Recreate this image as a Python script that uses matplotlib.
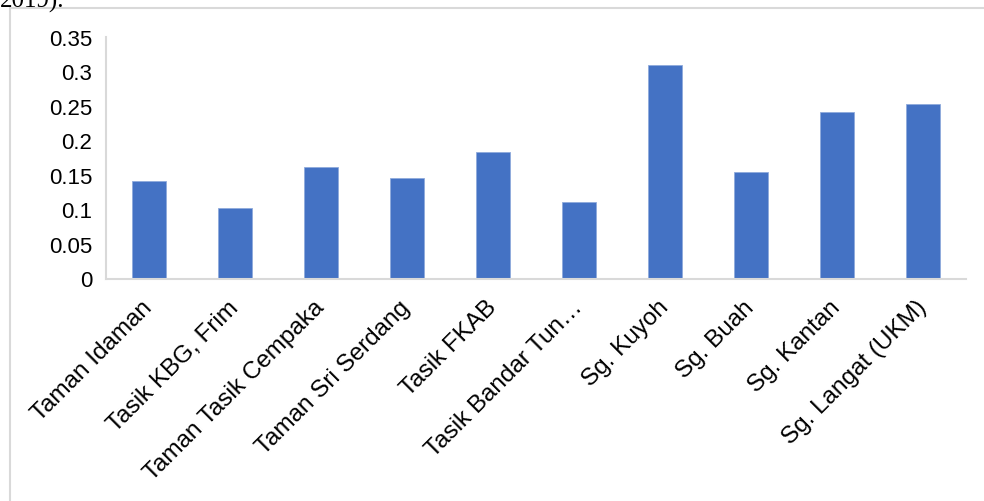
import matplotlib
matplotlib.use('Agg')
import matplotlib.pyplot as plt
from matplotlib.patches import Rectangle

# Chart data
sites = ['Taman Idaman', 'Tasik KBG, Frim', 'Taman Tasik Cempaka', 'Taman Sri Serdang',
         'Tasik FKAB', 'Tasik Bandar Tun…', 'Sg. Kuyoh', 'Sg. Buah', 'Sg. Kantan',
         'Sg. Langat (UKM)']
values = [0.141, 0.102, 0.162, 0.145, 0.183, 0.111, 0.310, 0.155, 0.241, 0.253]
yticks = [0, 0.05, 0.1, 0.15, 0.2, 0.25, 0.3, 0.35]
ytick_labels = ['0', '0.05', '0.1', '0.15', '0.2', '0.25', '0.3', '0.35']

plt.rcParams['font.family'] = ['Liberation Sans', 'DejaVu Sans']

W, H = 984, 502
fig = plt.figure(figsize=(W / 100, H / 100), dpi=100)
ax = fig.add_axes([106 / W, 1 - 279.5 / H, 860 / W, 241.5 / H])

# Outer chart frame (cut off at right and bottom)
fig.patches.append(Rectangle((10 / W, -0.1), 1.2, 1.1 - 9 / H, transform=fig.transFigure,
                             fill=False, edgecolor='#d9d9d9', linewidth=1.5, zorder=0))

# Caption fragment at the very top, mostly cut off
fig.text(0, 1 - 8 / H, '2019).', family='Liberation Serif', fontsize=18,
         ha='left', va='baseline')

x = list(range(len(sites)))
ax.bar(x, values, width=0.4, color='#4472c4', edgecolor='#8faadc', linewidth=0.6, zorder=2)

ax.set_xlim(-0.5, len(sites) - 0.5)
ax.set_ylim(0, 0.35)
ax.set_yticks(yticks)
ax.set_yticklabels(ytick_labels, fontsize=16)
ax.set_xticks(x)
ax.set_xticklabels(sites, fontsize=17.5, rotation=45, ha='right', va='center',
                   rotation_mode='anchor')
ax.tick_params(axis='y', length=0, pad=10)
ax.tick_params(axis='x', length=0, pad=18)

for s in ['top', 'right']:
    ax.spines[s].set_visible(False)
for s in ['left', 'bottom']:
    ax.spines[s].set_color('#d9d9d9')
    ax.spines[s].set_linewidth(1.5)

fig.savefig('out.png', dpi=100)
